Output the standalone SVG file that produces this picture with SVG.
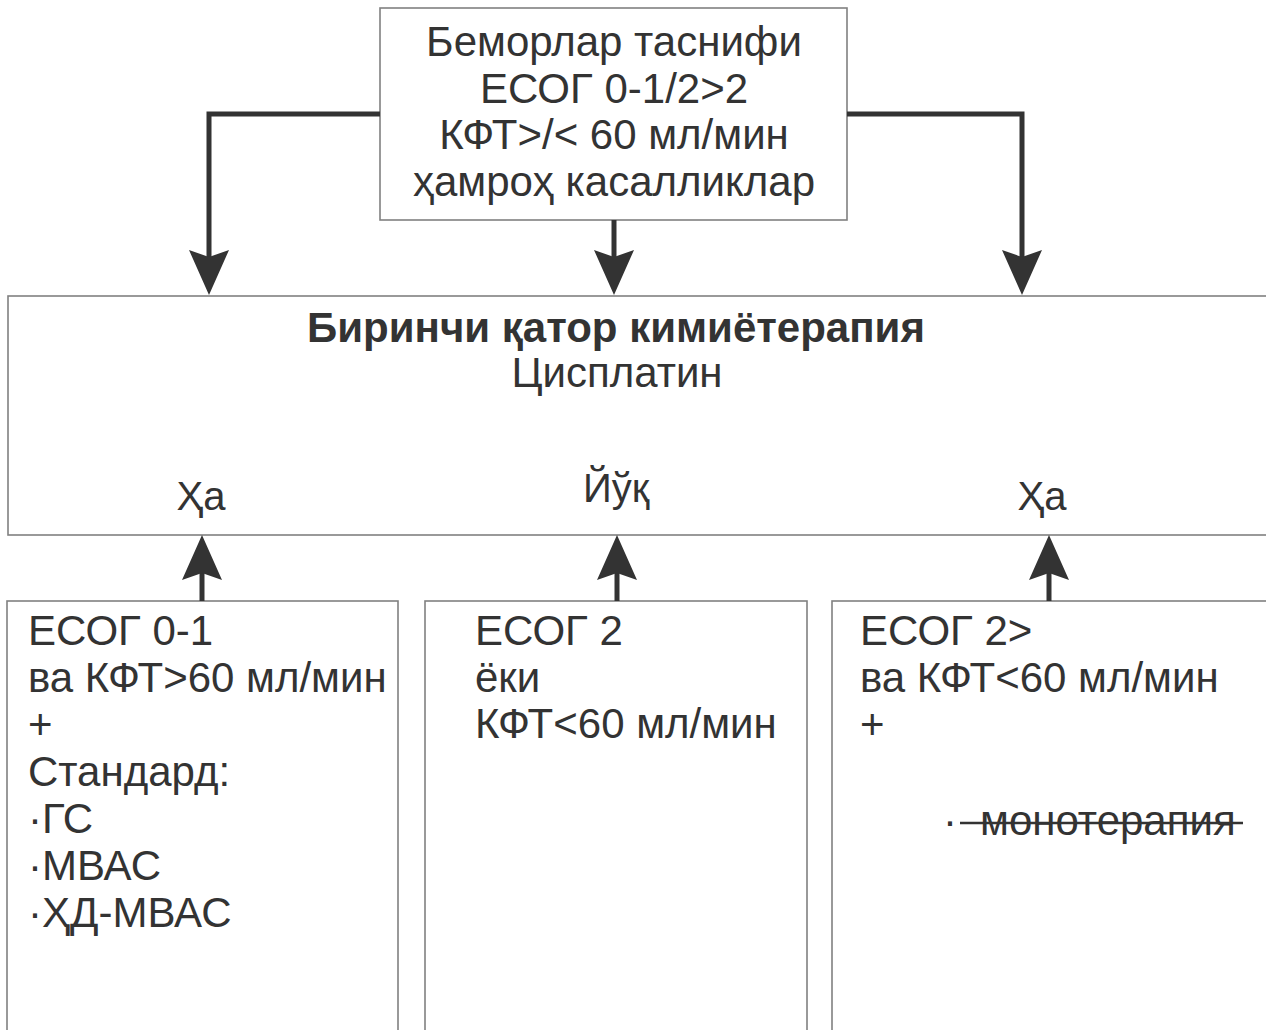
<svg xmlns="http://www.w3.org/2000/svg" width="1266" height="1030" viewBox="0 0 1266 1030">
<style>
.box{fill:#fff;stroke:#808080;stroke-width:1.6}
.t{font-family:"Liberation Sans",Arial,sans-serif;font-size:42px;fill:#333}
.s{font-size:40px}
.c{text-anchor:middle}
.b{font-weight:bold}
.con{fill:none;stroke:#333;stroke-width:5}
</style>
<defs>
<marker id="ah" viewBox="0 0 45 40" refX="25" refY="20" markerWidth="45" markerHeight="40" markerUnits="userSpaceOnUse" orient="auto">
<path d="M0,0 L45,20 L0,40 L7,20 Z" fill="#333"/>
</marker>
</defs>
<rect width="1266" height="1030" fill="#fff"/>
<g id="classify">
<rect class="box" x="380" y="8" width="467" height="212"/>
<text class="t c" x="614" y="56">Беморлар таснифи</text>
<text class="t c" x="614" y="103">ЕСОГ 0-1/2&gt;2</text>
<text class="t c" x="614" y="149">КФТ&gt;/&lt; 60 мл/мин</text>
<text class="t c" x="614" y="196">ҳамроҳ касалликлар</text>
</g>
<g id="firstline">
<rect class="box" x="8" y="296" width="1280" height="239"/>
<text class="t c b" x="616" y="342">Биринчи қатор кимиётерапия</text>
<text class="t c" x="617" y="387">Цисплатин</text>
<text class="t c s" x="201" y="510">Ҳа</text>
<text class="t c s" x="616" y="502">Йўқ</text>
<text class="t c s" x="1042" y="510">Ҳа</text>
</g>
<g id="ecog01">
<rect class="box" x="7" y="601" width="391" height="460"/>
<text class="t" x="28" y="645">ЕСОГ 0-1</text>
<text class="t" x="28" y="692">ва КФТ&gt;60 мл/мин</text>
<text class="t" x="28" y="739">+</text>
<text class="t" x="28" y="786">Стандард:</text>
<text class="t" x="28" y="833">·ГС</text>
<text class="t" x="28" y="880">·МВАС</text>
<text class="t" x="28" y="927">·ҲД-МВАС</text>
</g>
<g id="ecog2">
<rect class="box" x="425" y="601" width="382" height="460"/>
<text class="t" x="475" y="645">ЕСОГ 2</text>
<text class="t" x="475" y="692">ёки</text>
<text class="t" x="475" y="738">КФТ&lt;60 мл/мин</text>
</g>
<g id="ecog2plus">
<rect class="box" x="832" y="601" width="460" height="460"/>
<text class="t" x="860" y="645">ЕСОГ 2&gt;</text>
<text class="t" x="860" y="692">ва КФТ&lt;60 мл/мин</text>
<text class="t" x="860" y="739">+</text>
<text class="t" x="943" y="835">·</text>
<text class="t" x="980" y="835">монотерапия</text>
<line x1="960" y1="823" x2="1243" y2="823" stroke="#333" stroke-width="2.5"/>
</g>
<g id="connectors">
<path class="con" d="M380,114 H209 V275" marker-end="url(#ah)"/>
<path class="con" d="M614,220 V275" marker-end="url(#ah)"/>
<path class="con" d="M847,114 H1022 V275" marker-end="url(#ah)"/>
<path class="con" d="M202,601 V555" marker-end="url(#ah)"/>
<path class="con" d="M617,601 V555" marker-end="url(#ah)"/>
<path class="con" d="M1049,601 V555" marker-end="url(#ah)"/>
</g>
</svg>
